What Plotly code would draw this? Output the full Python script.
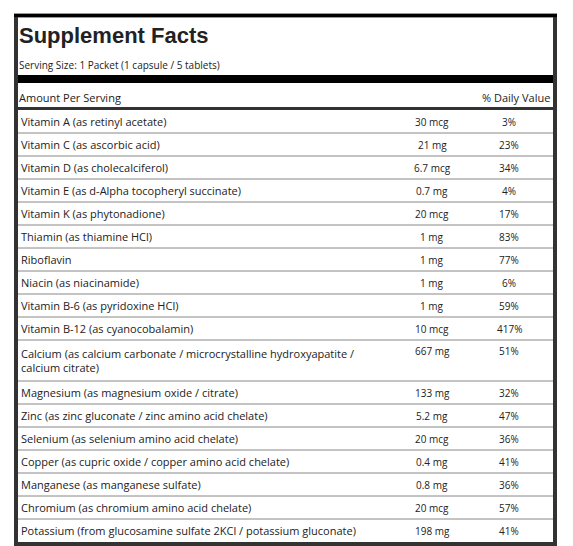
import plotly.graph_objects as go

# Supplement facts data
nutrients = [
    "Vitamin A (as retinyl acetate)",
    "Vitamin C (as ascorbic acid)",
    "Vitamin D (as cholecalciferol)",
    "Vitamin E (as d-Alpha tocopheryl succinate)",
    "Vitamin K (as phytonadione)",
    "Thiamin (as thiamine HCl)",
    "Riboflavin",
    "Niacin (as niacinamide)",
    "Vitamin B-6 (as pyridoxine HCl)",
    "Vitamin B-12 (as cyanocobalamin)",
    "Calcium (as calcium carbonate / microcrystalline hydroxyapatite /<br>calcium citrate)",
    "Magnesium (as magnesium oxide / citrate)",
    "Zinc (as zinc gluconate / zinc amino acid chelate)",
    "Selenium (as selenium amino acid chelate)",
    "Copper (as cupric oxide / copper amino acid chelate)",
    "Manganese (as manganese sulfate)",
    "Chromium (as chromium amino acid chelate)",
    "Potassium (from glucosamine sulfate 2KCl / potassium gluconate)",
]
amounts = ["30 mcg", "21 mg", "6.7 mcg", "0.7 mg", "20 mcg", "1 mg", "1 mg", "1 mg",
           "1 mg", "10 mcg", "667 mg", "133 mg", "5.2 mg", "20 mcg", "0.4 mg",
           "0.8 mg", "20 mcg", "198 mg"]
daily_values = ["3%", "23%", "34%", "4%", "17%", "83%", "77%", "6%", "59%", "417%",
                "51%", "32%", "47%", "36%", "41%", "36%", "57%", "41%"]

title = "Supplement Facts"
serving = "Serving Size: 1 Packet (1 capsule / 5 tablets)"

FONT = "Open Sans, Noto Sans, sans-serif"
W, H = 573, 546
OFF = 8  # page body margin

fig = go.Figure()
shapes = []
ann = []

def text(x, y, s, size=11, xanchor="left", bold=False, family=FONT):
    ann.append(dict(x=x, y=y, xref="x", yref="y", text=f"<b>{s}</b>" if bold else s,
                    showarrow=False, xanchor=xanchor, yanchor="middle", align="left",
                    font=dict(family=family, size=size, color="#222")))

def hline(y, color, width):
    shapes.append(dict(type="line", xref="x", yref="y", x0=17, x1=554, y0=y, y1=y,
                       line=dict(color=color, width=width)))

# header
text(17, 35, title, size=22, bold=True, family="Liberation Sans, Arial, sans-serif")
text(17, 65, serving, size=10)
shapes.append(dict(type="rect", xref="x", yref="y", x0=16, x1=554, y0=75, y1=83,
                   fillcolor="black", line=dict(width=0)))
text(17, 97, "Amount Per Serving", size=11)
text(552, 97, "% Daily Value", size=11, xanchor="right")
hline(108.5, "#333", 3)

# rows
y = 110
for i, (n, a, d) in enumerate(zip(nutrients, amounts, daily_values)):
    lines = n.count("<br>") + 1
    h = 23 + 18 * (lines - 1)
    if lines == 1:
        text(19, y + h / 2, n)
        text(432, y + h / 2, a, size=10, xanchor="center")
        text(509, y + h / 2, d, size=10, xanchor="center")
    else:
        text(19, y + h / 2, n)
        text(432, y + 11, a, size=10, xanchor="center")
        text(509, y + 11, d, size=10, xanchor="center")
    y += h
    if i < len(nutrients) - 1:
        hline(y, "#888", 1)

# frame
shapes.append(dict(type="rect", xref="x", yref="y", x0=16, x1=555, y0=15.5, y1=544,
                   line=dict(color="#333", width=4)))
shapes.append(dict(type="line", xref="x", yref="y", x0=14, x1=557, y0=15.5, y1=15.5,
                   line=dict(color="black", width=3)))

fig.update_layout(
    width=W - OFF, height=H - OFF, margin=dict(l=0, r=0, t=0, b=0),
    plot_bgcolor="white", paper_bgcolor="white",
    xaxis=dict(range=[OFF, W], visible=False, fixedrange=True),
    yaxis=dict(range=[H, OFF], visible=False, fixedrange=True),
    shapes=shapes, annotations=ann, showlegend=False,
)

fig.write_html("out.html")
